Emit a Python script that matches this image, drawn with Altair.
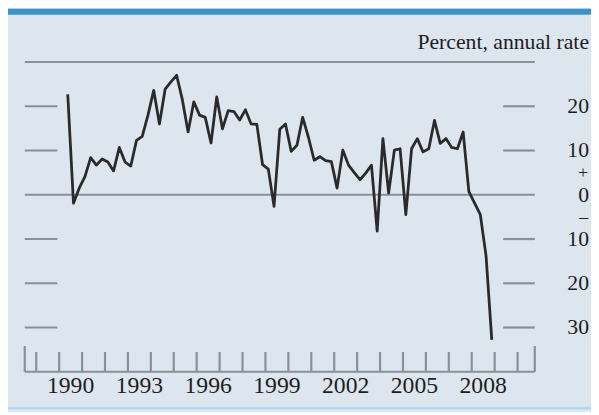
import altair as alt
import pandas as pd

# Quarterly series, 1990:Q2 - 2008:Q4 (percent, annual rate)
start_year, start_q = 1990, 2
values = [22.7, -1.9, 1.5,
          4.1, 8.4, 6.7, 8.1,
          7.4, 5.4, 10.7, 7.4,
          6.5, 12.3, 13.2, 18.0,
          23.6, 16.0, 23.9, 25.5,
          27.0, 21.5, 14.2, 21.0,
          18.0, 17.5, 11.7, 22.1,
          14.9, 19.0, 18.8, 16.9,
          19.2, 16.0, 15.9, 6.8,
          5.8, -2.6, 14.8, 16.0,
          9.8, 11.2, 17.5, 13.0,
          7.8, 8.6, 7.7, 7.5,
          1.5, 10.1, 6.7, 5.0,
          3.4, 4.9, 6.7, -8.2,
          12.7, 0.4, 10.1, 10.4,
          -4.5, 10.4, 12.7, 9.7,
          10.4, 16.8, 11.6, 12.7,
          10.7, 10.4, 14.2, 0.7,
          -1.9, -4.5, -13.8, -32.8]

year_labels = [1990, 1993, 1996, 1999, 2002, 2005, 2008]
year_ticks = list(range(1989, 2011))
end_ticks = [1988.5, 2010.75]
y_ticks = [20, 10, -10, -20, -30]
y_label_values = [20, 10, 0, -10, -20, -30]
y_label_text = ["20", "10", "0", "10", "20", "30"]
sign_values = [5.0, -5.0]
sign_text = ["+", "\u2013"]
unit_label = "Percent, annual rate"

x_domain = [1988.5, 2010.75]
y_domain = [-40, 30]

W, H = 517, 314
FONT = "Liberation Serif"
GRAY = "#87919b"
TXT = "#1e1e1e"

rows = []
yr, q = start_year, start_q
for v in values:
    rows.append({"t": yr + (q - 0.5) / 4.0, "v": v})
    q += 1
    if q > 4:
        q = 1
        yr += 1
df = pd.DataFrame(rows)

xs = alt.Scale(domain=x_domain, nice=False, zero=False)
ys = alt.Scale(domain=y_domain, nice=False, zero=False)

line = alt.Chart(df).mark_line(color="#2a2a2a", strokeWidth=2.8, strokeJoin="round").encode(
    x=alt.X("t:Q", scale=xs, axis=None),
    y=alt.Y("v:Q", scale=ys, axis=None),
)

hlines = alt.Chart(pd.DataFrame({"y": [30, 0, -40]})).mark_rule(color=GRAY, strokeWidth=2.2).encode(
    y=alt.Y("y:Q", scale=ys, axis=None)
)

tick_df = pd.DataFrame({"y": y_ticks})
left_ticks = alt.Chart(tick_df).mark_rule(color=GRAY, strokeWidth=2.2).encode(
    y=alt.Y("y:Q", scale=ys, axis=None), x=alt.value(0), x2=alt.value(33)
)
right_ticks = alt.Chart(tick_df).mark_rule(color=GRAY, strokeWidth=2.2).encode(
    y=alt.Y("y:Q", scale=ys, axis=None), x=alt.value(W - 32), x2=alt.value(W)
)

ylab = alt.Chart(pd.DataFrame({"y": y_label_values, "s": y_label_text})).mark_text(
    font=FONT, fontSize=22, color=TXT, align="right", baseline="middle"
).encode(y=alt.Y("y:Q", scale=ys, axis=None), x=alt.value(W + 55), text="s:N")

signs = alt.Chart(pd.DataFrame({"y": sign_values, "s": sign_text})).mark_text(
    font=FONT, fontSize=18, color=TXT, align="right", baseline="middle"
).encode(y=alt.Y("y:Q", scale=ys, axis=None), x=alt.value(W + 54), text="s:N")

xticks = alt.Chart(pd.DataFrame({"t": year_ticks})).mark_rule(color=GRAY, strokeWidth=2.2).encode(
    x=alt.X("t:Q", scale=xs, axis=None), y=alt.value(H), y2=alt.value(H - 20)
)
xend = alt.Chart(pd.DataFrame({"t": end_ticks})).mark_rule(color=GRAY, strokeWidth=2.2).encode(
    x=alt.X("t:Q", scale=xs, axis=None), y=alt.value(H), y2=alt.value(H - 26)
)

xlab = alt.Chart(pd.DataFrame({"t": [y + 0.5 for y in year_labels], "s": [str(y) for y in year_labels]})).mark_text(
    font=FONT, fontSize=24, color=TXT, align="center", baseline="alphabetic"
).encode(x=alt.X("t:Q", scale=xs, axis=None), y=alt.value(H + 22), text="s:N")

unit = alt.Chart(pd.DataFrame({"s": [unit_label]})).mark_text(
    font=FONT, fontSize=22, color=TXT, align="right", baseline="alphabetic"
).encode(x=alt.value(W + 55), y=alt.value(-13), text="s:N")

top_bar = alt.Chart(pd.DataFrame({"s": [unit_label]})).mark_rule(color="#3d93c6", strokeWidth=6).encode(
    x=alt.value(-17), x2=alt.value(W + 57), y=alt.value(-51)
)
bottom_bar = alt.Chart(pd.DataFrame({"s": [unit_label]})).mark_rule(color="#a9d5ee", strokeWidth=2).encode(
    x=alt.value(-17), x2=alt.value(W + 57), y=alt.value(H + 37)
)

chart = alt.layer(
    hlines, left_ticks, right_ticks, xticks, xend, line, ylab, signs, xlab, unit, top_bar, bottom_bar
).properties(
    width=W, height=H,
    autosize=alt.AutoSizeParams(type="none"),
    padding={"left": 17, "right": 57, "top": 52, "bottom": 38},
    background="#dde5ee",
).configure_view(stroke=None)

chart.save("out.html", embed_options={"renderer": "svg", "actions": False})
